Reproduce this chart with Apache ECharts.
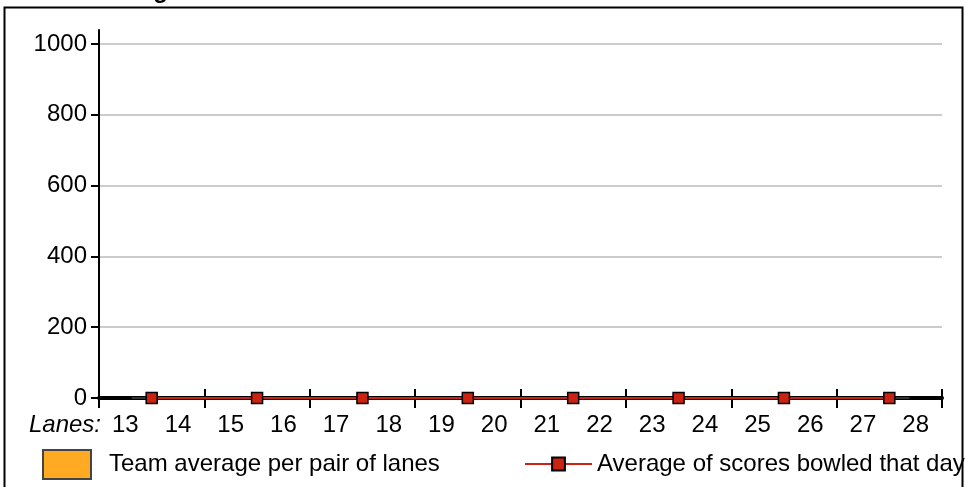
<!DOCTYPE html>
<html>
<head>
<meta charset="utf-8">
<script src="https://cdn.jsdelivr.net/npm/echarts@6/dist/echarts.min.js"></script>
<style>
html,body{margin:0;padding:0;background:#fff;}
#c{width:966px;height:487px;}
</style>
</head>
<body>
<div id="c"></div>
<script>
const titleText = 'Lane Scoring';
const lanes = ['13','14','15','16','17','18','19','20','21','22','23','24','25','26','27','28'];
const lanePairs = [[13,14],[15,16],[17,18],[19,20],[21,22],[23,24],[25,26],[27,28]];
const teamAverages = [0,0,0,0,0,0,0,0];
const dayAverages = [0,0,0,0,0,0,0,0];
const yMin = 0, yMax = 1000, yStep = 200;
const teamName = 'Team average per pair of lanes';
const dayName = 'Average of scores bowled that day';

const FONT = 'Liberation Sans, Arial, Helvetica, sans-serif';
const FS = 24;
const xMin = Number(lanes[0]) - 0.5, xMax = Number(lanes[lanes.length-1]) + 0.5;
const pairMid = lanePairs.map(p => (p[0]+p[1])/2);

const chart = echarts.init(document.getElementById('c'), null, {renderer:'canvas'});
const gridBox = {left:99, right:24, bottom:89};
const tickAxisBase = {
  type:'value', gridIndex:0, min:xMin, max:xMax, interval:2, position:'bottom',
  axisLabel:{show:false}, splitLine:{show:false}
};
chart.setOption({
  animation:false,
  textStyle:{fontFamily:FONT},
  title:{text:titleText, left:16, top:-21, padding:0,
    textStyle:{fontFamily:FONT, fontSize:FS, fontWeight:'bold', color:'#000'}},
  grid:[
    Object.assign({top:44}, gridBox),
    Object.assign({top:30}, gridBox)
  ],
  legend:[
    {data:[{name:teamName, icon:'rect'}], left:42, top:449, itemWidth:48, itemHeight:29, padding:0,
     textStyle:{fontFamily:FONT, fontSize:FS, color:'#000', padding:[0,0,0,13]}},
    {data:[dayName], left:524, top:452, itemWidth:67, itemHeight:16, padding:0,
     textStyle:{fontFamily:FONT, fontSize:FS, color:'#000'}}
  ],
  xAxis:[
    Object.assign({}, tickAxisBase, {
      axisLine:{show:true, lineStyle:{color:'#000', width:4}},
      axisTick:{show:true, inside:false, length:10, lineStyle:{color:'#000', width:2}}
    }),
    Object.assign({}, tickAxisBase, {
      offset:0,
      axisLine:{show:false},
      axisTick:{show:true, inside:true, length:9, lineStyle:{color:'#000', width:2}}
    }),
    {type:'category', gridIndex:0, data:lanes, boundaryGap:true, position:'bottom', offset:0,
     axisLine:{show:false}, axisTick:{show:false}, splitLine:{show:false},
     axisLabel:{fontFamily:FONT, fontSize:FS, color:'#000', margin:15, interval:0},
     name:'Lanes:', nameLocation:'start', nameGap:-2,
     nameTextStyle:{fontFamily:FONT, fontSize:FS, color:'#000', fontStyle:'italic',
       verticalAlign:'top', align:'right', padding:[15,0,0,0]}},
    {type:'value', gridIndex:1, show:false, min:0, max:1}
  ],
  yAxis:[
    {type:'value', gridIndex:0, min:yMin, max:yMax, interval:yStep,
     axisLine:{show:false},
     axisTick:{show:true, length:8, lineStyle:{color:'#000', width:2}},
     axisLabel:{fontFamily:FONT, fontSize:FS, color:'#000', margin:12, formatter:v => String(v)},
     splitLine:{show:true, lineStyle:{color:'#bbbbbb', width:1.5}}},
    {type:'value', gridIndex:1, min:0, max:1,
     axisLine:{show:true, lineStyle:{color:'#000', width:2}},
     axisTick:{show:false}, axisLabel:{show:false}, splitLine:{show:false}}
  ],
  series:[
    {name:teamName, type:'bar', xAxisIndex:0, yAxisIndex:0,
     data:pairMid.map((x,i)=>[x, teamAverages[i]]), barWidth:40,
     itemStyle:{color:'#ffaa22', borderColor:'#444', borderWidth:1.5}},
    {name:dayName, type:'line', xAxisIndex:0, yAxisIndex:0,
     data:pairMid.map((x,i)=>[x, dayAverages[i]]),
     symbol:'rect', symbolSize:11,
     lineStyle:{color:'#cc2211', width:2},
     itemStyle:{color:'#cc2211', borderColor:'#000', borderWidth:1.5}}
  ],
  graphic:[
    {type:'rect', z:100, silent:true,
     shape:{x:4.5, y:7.5, width:958, height:520},
     style:{fill:null, stroke:'#000', lineWidth:2}}
  ]
});
</script>
</body>
</html>
